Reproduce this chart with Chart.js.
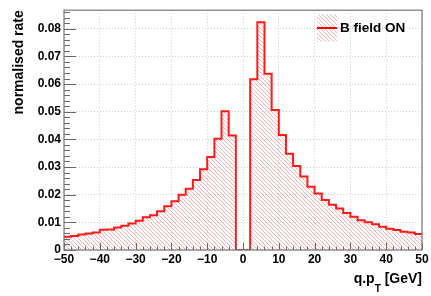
<!DOCTYPE html>
<html>
<head>
<meta charset="utf-8">
<script src="https://cdn.jsdelivr.net/npm/chart.js@4/dist/chart.umd.min.js"></script>
<style>
  html, body { margin: 0; padding: 0; background: #fff; }
  canvas { display: block; }
</style>
</head>
<body>
<canvas id="qptChart" width="431" height="296"></canvas>
<script>
// bin lower edges (GeV), bin width 2
const BIN_EDGES = [-50, -48, -46, -44, -42, -40, -38, -36, -34, -32,
                   -30, -28, -26, -24, -22, -20, -18, -16, -14, -12,
                   -10, -8, -6, -4, -2, 0, 2, 4, 6, 8,
                   10, 12, 14, 16, 18, 20, 22, 24, 26, 28,
                   30, 32, 34, 36, 38, 40, 42, 44, 46, 48];
const X_LAST_EDGE = 50;

// normalised rate per bin
const RATE = [0.0048, 0.0051, 0.0056, 0.0060, 0.0063, 0.0073, 0.0074, 0.0081, 0.0088, 0.0096,
              0.0106, 0.0118, 0.0126, 0.0140, 0.0158, 0.0176, 0.0200, 0.0221, 0.0253, 0.0292,
              0.0336, 0.0402, 0.0502, 0.0414, 0, 0, 0.0617, 0.0823, 0.0637, 0.0506,
              0.0416, 0.0348, 0.0304, 0.0266, 0.0229, 0.0204, 0.0181, 0.0164, 0.0150, 0.0134,
              0.0120, 0.0108, 0.0100, 0.0093, 0.0084, 0.0077, 0.0072, 0.0066, 0.0063, 0.0058];

const X_TICKS = [-50, -40, -30, -20, -10, 0, 10, 20, 30, 40, 50];
const Y_TICKS = [0, 0.01, 0.02, 0.03, 0.04, 0.05, 0.06, 0.07, 0.08];
const SERIES_LABEL = "B field ON";
const X_TITLE = ["q.p", "T", " [GeV]"];
const Y_TITLE = "normalised rate";

const FONT = "'Liberation Sans', Arial, Helvetica, sans-serif";

// hatch pattern like ROOT fill style 3004-ish
function makeHatch() {
    const c = document.createElement("canvas");
    c.width = 4; c.height = 4;
    const g = c.getContext("2d");
    g.fillStyle = "#ffb0b0";
    for (let y = 0; y < 4; y++) {
        for (let x = 0; x < 4; x++) {
            if ((x - y + 4) % 4 === 0) g.fillRect(x, y, 1, 1);
        }
    }
    return g.createPattern(c, "repeat");
}
const hatch = makeHatch();

const points = BIN_EDGES.map((x, i) => ({ x: x, y: RATE[i] }));
points.push({ x: X_LAST_EDGE, y: RATE[RATE.length - 1] });

const fmt = v => (v < 0 ? "\u2212" + Math.abs(v) : String(v));

// frame, inside ticks, titles and legend in ROOT style
const rootStyle = {
    id: "rootStyle",
    afterDraw(chart) {
        const ctx = chart.ctx;
        const a = chart.chartArea;
        const xs = chart.scales.x, ys = chart.scales.y;
        ctx.save();

        // y ticks
        ctx.strokeStyle = "#666";
        ctx.lineWidth = 1;
        ctx.beginPath();
        const yStep = Y_TICKS[1] - Y_TICKS[0];
        for (let v = 0; v <= ys.max + 1e-9; v += yStep / 5) {
            const major = Math.abs(v / yStep - Math.round(v / yStep)) < 1e-6;
            const py = Math.round(ys.getPixelForValue(v)) + 0.5;
            ctx.moveTo(a.left, py);
            ctx.lineTo(a.left + (major ? 12 : 6), py);
        }
        // x ticks
        const xStep = X_TICKS[1] - X_TICKS[0];
        for (let v = xs.min; v <= xs.max + 1e-9; v += xStep / 5) {
            const major = Math.abs(v / xStep - Math.round(v / xStep)) < 1e-6;
            const px = Math.round(xs.getPixelForValue(v)) + 0.5;
            ctx.moveTo(px, a.bottom);
            ctx.lineTo(px, a.bottom - (major ? 7 : 3.5));
        }
        ctx.stroke();

        // frame
        ctx.strokeStyle = "#777";
        ctx.lineWidth = 1.2;
        ctx.strokeRect(a.left, a.top, a.right - a.left, a.bottom - a.top);

        // y title
        ctx.fillStyle = "#000";
        ctx.font = "bold 14px " + FONT;
        ctx.translate(19, a.top);
        ctx.rotate(-Math.PI / 2);
        ctx.textAlign = "right";
        ctx.textBaseline = "middle";
        ctx.fillText(Y_TITLE, 0, 0);
        ctx.setTransform(1, 0, 0, 1, 0, 0);

        // x title with subscript
        ctx.textAlign = "left";
        ctx.textBaseline = "alphabetic";
        ctx.font = "bold 14px " + FONT;
        const w1 = ctx.measureText(X_TITLE[0]).width;
        const w3 = ctx.measureText(X_TITLE[2]).width;
        ctx.font = "bold 10px " + FONT;
        const w2 = ctx.measureText(X_TITLE[1]).width;
        let tx = a.right - (w1 + w2 + w3);
        ctx.font = "bold 14px " + FONT;
        ctx.fillText(X_TITLE[0], tx, 283);
        ctx.font = "bold 10px " + FONT;
        ctx.fillText(X_TITLE[1], tx + w1, 292);
        ctx.font = "bold 14px " + FONT;
        ctx.fillText(X_TITLE[2], tx + w1 + w2, 283);

        // legend
        const lx = 317, ly = 14, lw = 20, lh = 28;
        ctx.fillStyle = hatch;
        ctx.fillRect(lx, ly, lw, lh);
        ctx.strokeStyle = "#ff0000";
        ctx.lineWidth = 2;
        ctx.beginPath();
        ctx.moveTo(lx, ly + lh / 2);
        ctx.lineTo(lx + lw, ly + lh / 2);
        ctx.stroke();
        ctx.fillStyle = "#000";
        ctx.font = "bold 13.5px " + FONT;
        ctx.textBaseline = "middle";
        ctx.fillText(SERIES_LABEL, lx + lw + 3, ly + lh / 2);

        ctx.restore();
    }
};

new Chart(document.getElementById("qptChart"), {
    type: "line",
    data: {
        datasets: [{
            label: SERIES_LABEL,
            data: points,
            stepped: true,
            borderColor: "#ff1a1a",
            borderWidth: 2,
            backgroundColor: hatch,
            fill: "origin",
            pointRadius: 0,
            tension: 0
        }]
    },
    options: {
        responsive: false,
        animation: false,
        layout: { padding: { top: 5, right: 9, left: 0, bottom: 0 } },
        plugins: {
            legend: { display: false },
            tooltip: { enabled: false }
        },
        scales: {
            x: {
                type: "linear",
                min: -50,
                max: 50,
                afterBuildTicks: s => { s.ticks = X_TICKS.map(v => ({ value: v })); },
                afterFit: s => { s.height = 46; },
                ticks: {
                    color: "#000",
                    font: { family: FONT, size: 12, weight: "bold" },
                    padding: 2,
                    maxRotation: 0,
                    autoSkip: false,
                    callback: v => fmt(v)
                },
                grid: { color: "#cfcfcf", lineWidth: 1, drawTicks: false },
                border: { display: false, dash: [1, 2] }
            },
            y: {
                min: 0,
                max: 0.0867,
                afterBuildTicks: s => { s.ticks = Y_TICKS.map(v => ({ value: v })); },
                afterFit: s => { s.width = 64; },
                ticks: {
                    color: "#000",
                    font: { family: FONT, size: 12, weight: "bold" },
                    padding: 3,
                    callback: v => (v === 0 ? "0" : v.toFixed(2))
                },
                grid: { color: "#cfcfcf", lineWidth: 1, drawTicks: false },
                border: { display: false, dash: [1, 2] }
            }
        }
    },
    plugins: [rootStyle]
});
</script>
</body>
</html>
